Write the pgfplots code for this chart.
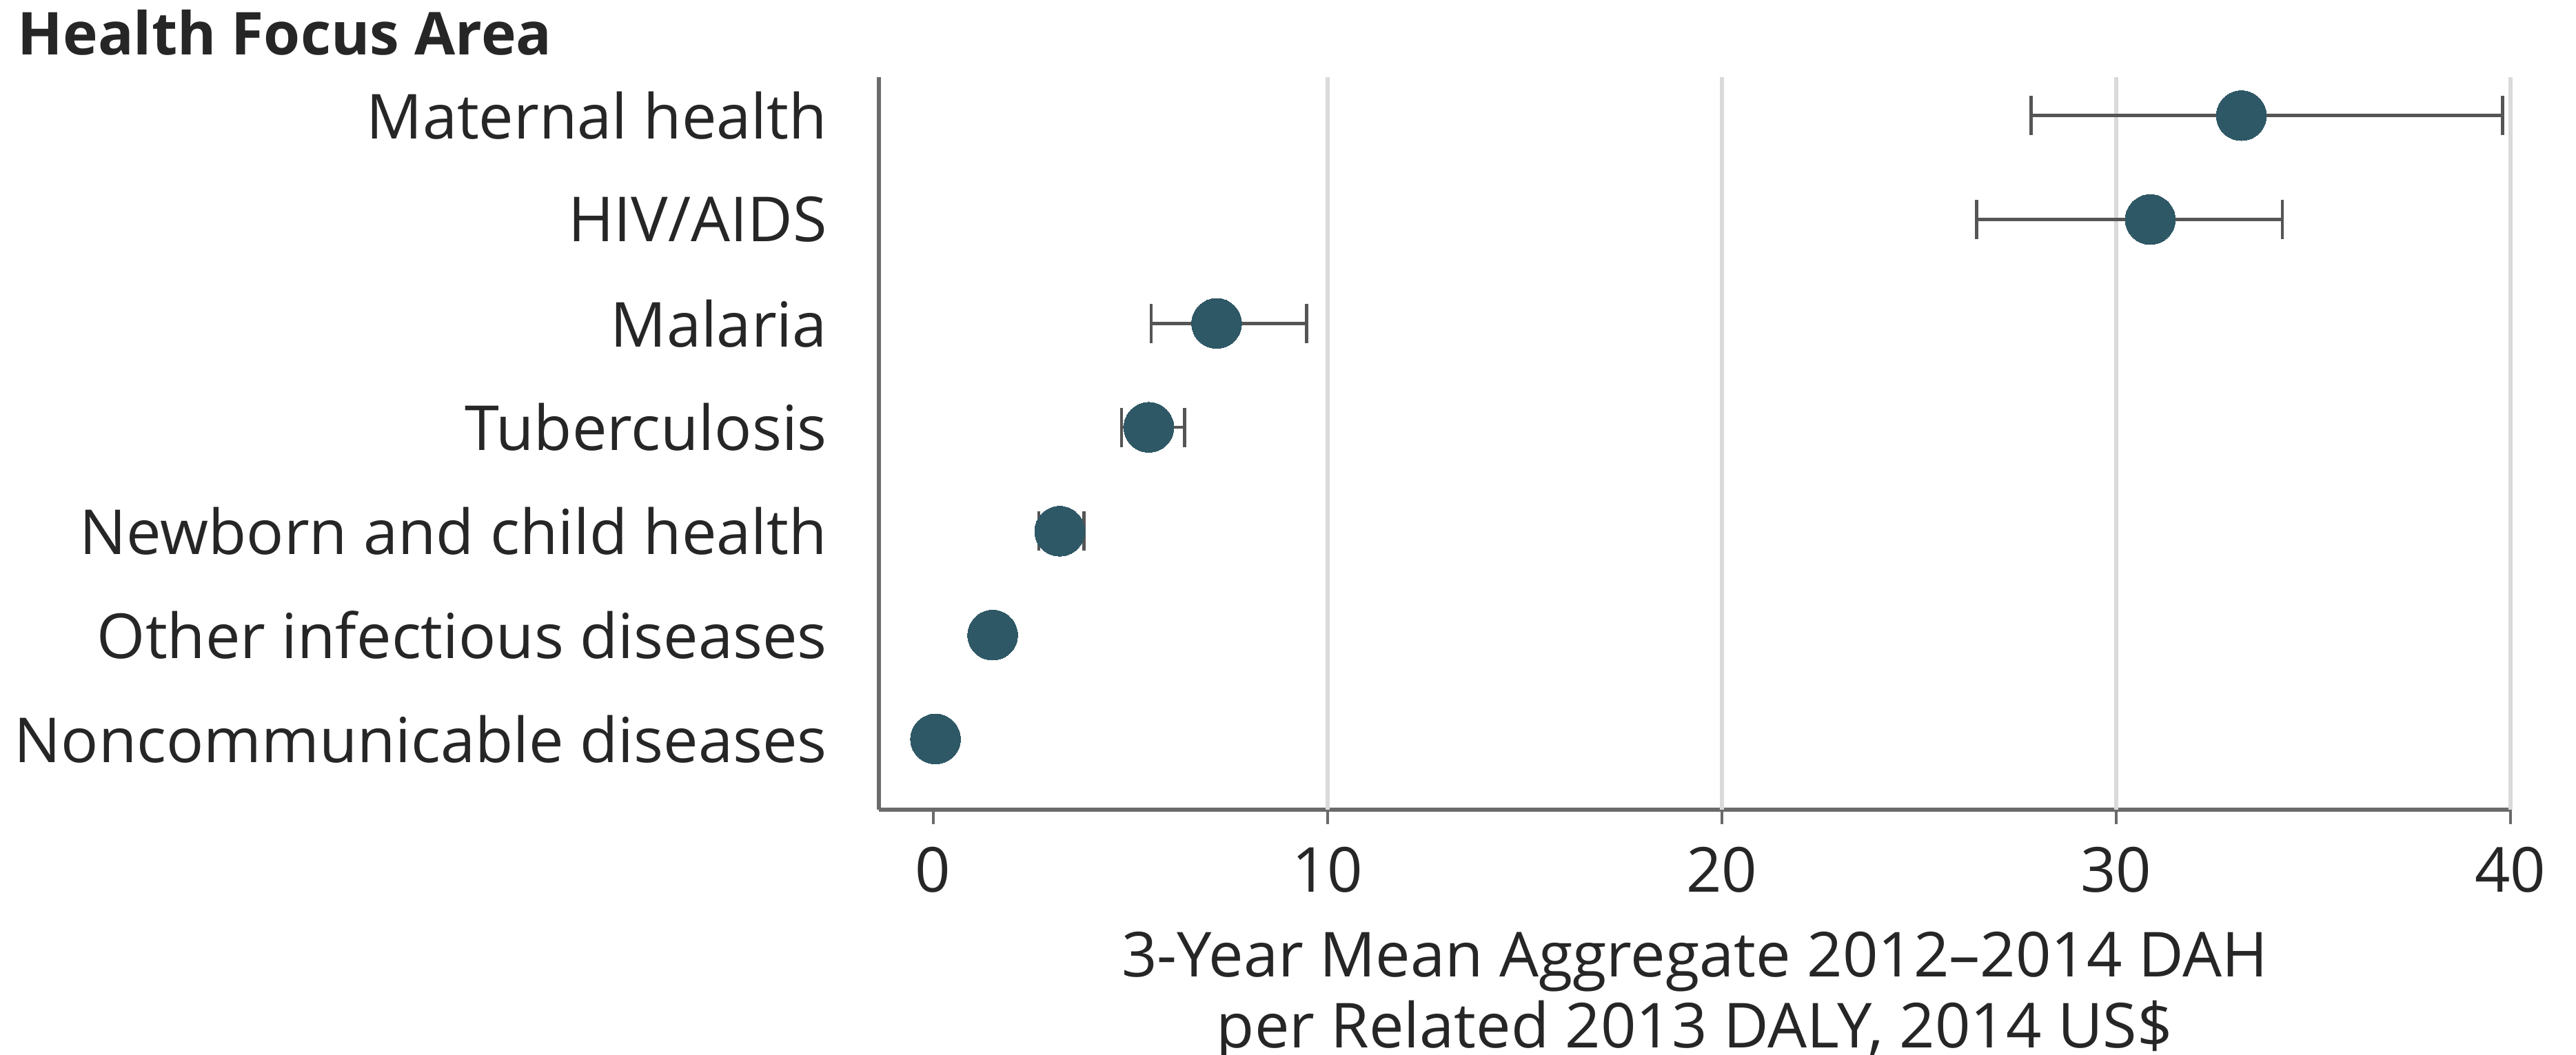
\documentclass[border=0pt]{standalone}
\usepackage{fontspec}
\setmainfont{Open Sans}
\usepackage{pgfplots}
\usepackage{pgfplotstable}
\pgfplotsset{compat=1.18}
\definecolor{dot}{HTML}{2F5866}
\definecolor{bar}{HTML}{555555}
\definecolor{gridc}{HTML}{DADADA}
\definecolor{axc}{HTML}{6A6A6A}
\pgfplotstableread{
y x lo hi
6 33.18 27.85 39.80
5 30.87 26.46 34.22
4 7.19 5.53 9.47
3 5.47 4.78 6.38
2 3.21 2.68 3.83
1 1.51 1.22 1.87
0 0.06 0.00 0.12
}\datatable
\pgfplotstablecreatecol[expr={\thisrow{hi}-\thisrow{x}}]{ep}{\datatable}
\pgfplotstablecreatecol[expr={\thisrow{x}-\thisrow{lo}}]{em}{\datatable}
\begin{document}
\fontsize{9pt}{11pt}\selectfont
\begin{tikzpicture}
\useasboundingbox (-133.75pt,-37.25pt) rectangle (258.25pt,123.25pt);
\begin{axis}[
  at={(0,0)}, anchor=south west,
  scale only axis, width=248.25pt, height=111.5pt,
  xmin=-1.375, xmax=40, ymin=-0.68, ymax=6.37,
  axis x line*=bottom, axis y line*=left,
  axis line style={draw=axc, line width=0.6pt},
  xtick={0,10,20,30,40},
  extra x ticks={10,20,30,40},
  extra x tick labels={},
  extra x tick style={grid=major, major tick length=0pt},
  grid style={draw=gridc, line width=0.6pt},
  tick align=outside,
  x tick style={draw=axc, line width=0.4pt},
  major tick length=2.2pt,
  ytick={0,1,2,3,4,5,6},
  y tick style={draw=none},
  yticklabels={Noncommunicable diseases, Other infectious diseases, Newborn and child health, Tuberculosis, Malaria, HIV/AIDS, Maternal health},
  yticklabel style={inner sep=0pt, xshift=-5.5pt, font=\fontsize{9.45pt}{11pt}\selectfont, text=black!85},
  xticklabel style={inner sep=0pt, yshift=-3.3pt, font=\fontsize{9.45pt}{11pt}\selectfont, text=black!85},
  /pgf/number format/assume math mode=true,
  xlabel={3-Year Mean Aggregate 2012\textendash2014 DAH\\per Related 2013 DALY, 2014 US\$},
  xlabel style={align=center, font=\fontsize{9.45pt}{10.9pt}\selectfont, text=black!85, inner sep=0pt, yshift=-3.5pt},
  clip=false,
]
\addplot[only marks, mark=*, mark size=3.8pt, mark options={fill=dot, draw=dot, line width=0pt},
  error bars/.cd, x dir=both, x explicit,
  error bar style={draw=bar, line width=0.5pt},
  error mark options={rotate=90, mark size=3pt, draw=bar, line width=0.5pt}]
  table[x=x, y=y, x error plus=ep, x error minus=em] {\datatable};
\end{axis}
\node[anchor=west, inner sep=0pt, font=\bfseries\fontsize{9pt}{11pt}\selectfont, text=black!85] at (-131.25pt,118.25pt) {Health Focus Area};
\end{tikzpicture}
\end{document}
